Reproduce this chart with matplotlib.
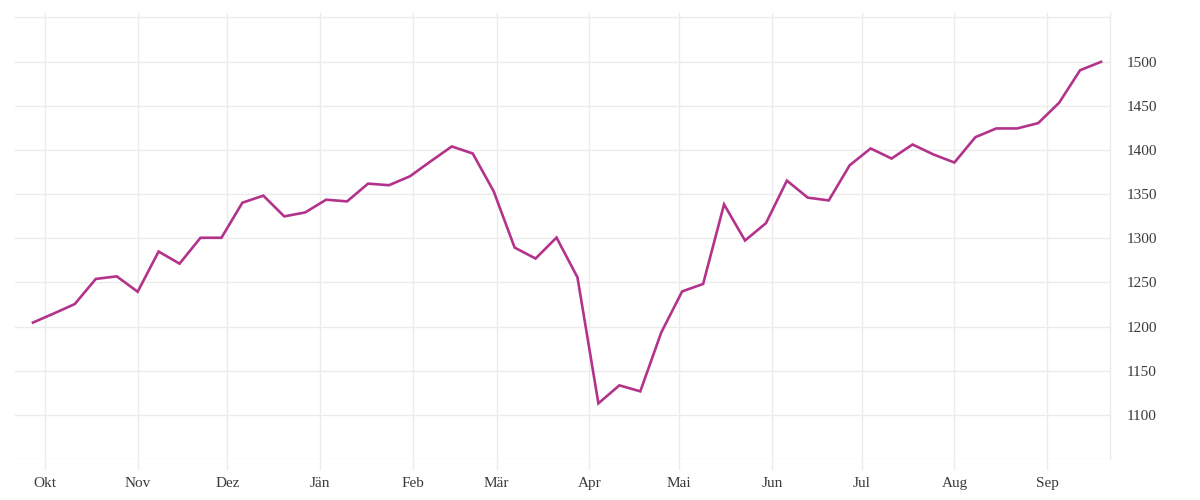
import numpy as np
import pandas as pd
import matplotlib
matplotlib.use("Agg")
import matplotlib.pyplot as plt
import matplotlib.dates as mdates

# weekly closes, Friday dates
dates = pd.date_range("2024-09-27", periods=52, freq="7D")
values = [
    1204.5, 1214.8, 1225.5, 1253.9, 1256.8, 1239.4, 1284.9, 1271.2, 1300.5, 1300.5,
    1340.2, 1348.2, 1324.7, 1329.2, 1343.6, 1341.7, 1361.8, 1360.0, 1370.1, 1387.2,
    1403.9, 1395.9, 1353.1, 1289.4, 1277.0, 1300.7, 1255.7, 1113.0, 1133.4, 1126.6,
    1193.2, 1239.8, 1248.2, 1338.3, 1297.4, 1317.0, 1365.2, 1345.9, 1342.8, 1382.6,
    1401.6, 1390.2, 1406.1, 1394.8, 1385.7, 1414.4, 1424.3, 1424.3, 1430.3, 1453.4,
    1490.2, 1499.7,
]
month_labels = ["Okt", "Nov", "Dez", "Jän", "Feb", "Mär", "Apr", "Mai", "Jun", "Jul", "Aug", "Sep"]
month_starts = pd.date_range("2024-10-01", periods=12, freq="MS")
y_grid = [1050, 1100, 1150, 1200, 1250, 1300, 1350, 1400, 1450, 1500, 1550]
y_labels = [1100, 1150, 1200, 1250, 1300, 1350, 1400, 1450, 1500]

LINE = "#b3338b"
GRID = "#ebebeb"
TEXT = "#3a3a3a"

plt.rcParams["font.family"] = ["Liberation Serif", "DejaVu Serif"]

fig = plt.figure(figsize=(12, 5), dpi=100)
ax = fig.add_axes([0.0125, 0.082, 0.9125, 0.892])

for g in y_grid:
    ax.axhline(g, color=GRID, linewidth=1, zorder=0)
for m in month_starts:
    ax.axvline(m, color=GRID, linewidth=1, zorder=0)

ax.plot(dates, values, color=LINE, linewidth=1.9, solid_joinstyle="miter", zorder=3)

ax.set_xlim(pd.Timestamp("2024-09-21"), pd.Timestamp("2025-09-22"))
ax.set_ylim(1050, 1555)

ax.set_xticks(month_starts)
ax.set_xticklabels(month_labels)
ax.tick_params(axis="x", length=8, color=GRID, width=1, pad=5, labelsize=11, labelcolor=TEXT)

ax.yaxis.tick_right()
ax.set_yticks(y_labels)
ax.set_yticklabels([str(v) for v in y_labels])
ax.tick_params(axis="y", length=0, pad=12, labelsize=11, labelcolor=TEXT)

for side in ["left", "top", "bottom"]:
    ax.spines[side].set_visible(False)
ax.spines["right"].set_color(GRID)
ax.spines["right"].set_linewidth(1)

fig.savefig("out.png", dpi=100)
